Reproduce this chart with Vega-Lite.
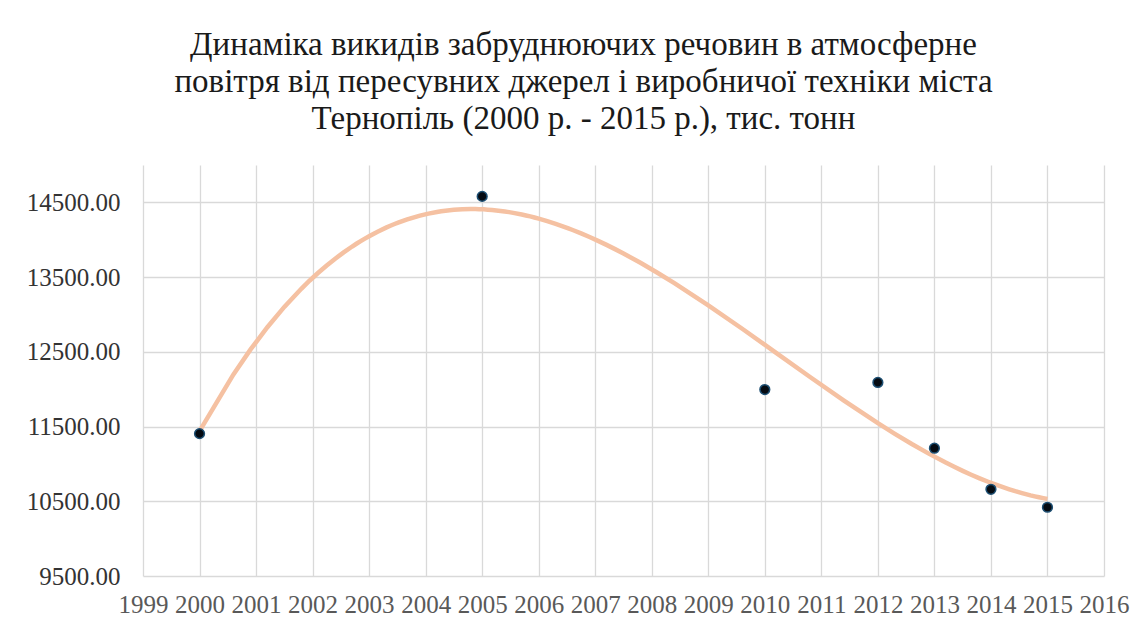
{
  "$schema": "https://vega.github.io/schema/vega-lite/v6.json",
  "width": 961,
  "height": 411,
  "autosize": {"type": "none"},
  "padding": {"left": 143, "top": 165, "right": 41, "bottom": 51},
  "background": "white",
  "title": {
    "text": ["Динаміка  викидів забруднюючих речовин в атмосферне", "повітря від пересувних джерел і виробничої техніки міста", "Тернопіль (2000  р. - 2015  р.), тис. тонн"],
    "font": "Liberation Serif",
    "fontSize": 33,
    "fontWeight": "normal",
    "color": "#1a1a1a",
    "lineHeight": 37,
    "anchor": "middle",
    "dx": -40,
    "offset": 29
  },
  "data": {
    "values": [
      {"year": 2000, "value": 11405},
      {"year": 2005, "value": 14580},
      {"year": 2010, "value": 11995},
      {"year": 2012, "value": 12090},
      {"year": 2013, "value": 11210},
      {"year": 2014, "value": 10660},
      {"year": 2015, "value": 10420}
    ]
  },
  "config": {
    "view": {"stroke": null},
    "axis": {
      "domain": false,
      "ticks": false,
      "grid": true,
      "gridColor": "#d9d9d9",
      "gridWidth": 1.3,
      "labelFont": "Liberation Serif",
      "labelFontSize": 25,
      "title": null
    }
  },
  "layer": [
    {
      "transform": [
        {"regression": "value", "on": "year", "method": "poly", "order": 3}
      ],
      "mark": {"type": "line", "color": "#f5c1a2", "strokeWidth": 4.5},
      "encoding": {
        "x": {"field": "year", "type": "quantitative"},
        "y": {"field": "value", "type": "quantitative"}
      }
    },
    {
      "mark": {"type": "point", "filled": true, "fill": "#050b12", "stroke": "#1d4f73", "strokeWidth": 1.5, "size": 95, "opacity": 1},
      "encoding": {
        "x": {
          "field": "year",
          "type": "quantitative",
          "scale": {"domain": [1999, 2016], "nice": false, "zero": false},
          "axis": {
            "values": [1999, 2000, 2001, 2002, 2003, 2004, 2005, 2006, 2007, 2008, 2009, 2010, 2011, 2012, 2013, 2014, 2015, 2016],
            "format": "d",
            "labelColor": "#595959",
            "labelPadding": 16,
            "labelFlush": false,
            "labelOverlap": false
          }
        },
        "y": {
          "field": "value",
          "type": "quantitative",
          "scale": {"domain": [9500, 15000], "nice": false, "zero": false},
          "axis": {
            "values": [9500, 10500, 11500, 12500, 13500, 14500],
            "format": ".2f",
            "labelColor": "#333333",
            "labelPadding": 23
          }
        }
      }
    }
  ]
}
